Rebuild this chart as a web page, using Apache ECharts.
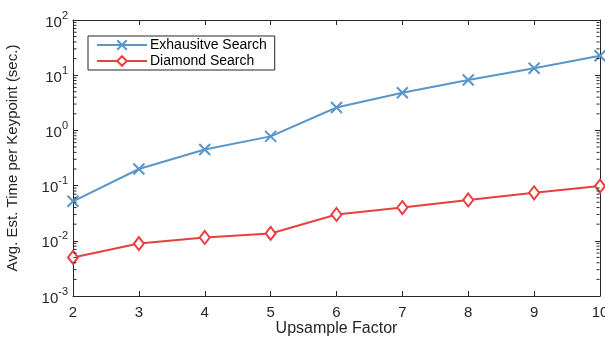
<!DOCTYPE html>
<html>
<head>
<meta charset="utf-8">
<script src="https://cdn.jsdelivr.net/npm/echarts@6/dist/echarts.min.js"></script>
<style>
  html, body { margin: 0; padding: 0; background: #fff; }
  #main { width: 605px; height: 339px; }
</style>
</head>
<body>
<div id="main"></div>
<script>
var factors = [2, 3, 4, 5, 6, 7, 8, 9, 10];
var exhaustive = [0.052, 0.20, 0.45, 0.78, 2.6, 4.8, 8.2, 13.4, 22.5];
var diamond = [0.0050, 0.0089, 0.0115, 0.0136, 0.030, 0.040, 0.055, 0.074, 0.098];
var seriesNames = ['Exhausitve Search', 'Diamond Search'];

// minor ticks 2..9 x 10^n, MATLAB style
var minorValues = [];
for (var e = -3; e < 2; e++) {
    for (var k = 2; k <= 9; k++) {
        minorValues.push(k * Math.pow(10, e));
    }
}

var chartDom = document.getElementById('main');
var myChart = echarts.init(chartDom, null, { renderer: 'canvas' });
var axisColor = '#262626';
var font = 'Liberation Sans, Arial, Helvetica, sans-serif';

function pair(xs, ys) {
    return xs.map(function (x, i) { return [x, ys[i]]; });
}

function minorSeries(x, offset) {
    return {
        type: 'scatter',
        silent: true,
        clip: false,
        z: 5,
        xAxisIndex: 0,
        yAxisIndex: 0,
        data: minorValues.map(function (v) { return [x, v]; }),
        symbol: 'rect',
        symbolSize: [3, 1],
        symbolOffset: [offset, 0],
        itemStyle: { color: axisColor, opacity: 1 },
        emphasis: { disabled: true }
    };
}

var option = {
    animation: false,
    textStyle: { fontFamily: font },
    grid: { left: 73, right: 5, top: 20, bottom: 43, outerBoundsMode: 'none', containLabel: false },
    legend: {
        data: seriesNames,
        orient: 'vertical',
        left: 88,
        top: 36,
        itemWidth: 50,
        itemHeight: 12,
        itemGap: 2,
        padding: [2, 8, 2, 8],
        backgroundColor: '#fff',
        borderColor: axisColor,
        borderWidth: 1,
        borderRadius: 0,
        textStyle: { fontSize: 14, color: '#000', fontFamily: font, padding: [0, 0, 0, -2] }
    },
    xAxis: [{
        type: 'value',
        min: 2,
        max: 10,
        interval: 1,
        name: 'Upsample Factor',
        nameLocation: 'middle',
        nameGap: 25,
        nameMoveOverlap: false,
        nameTextStyle: { fontSize: 16, color: axisColor },
        axisLine: { lineStyle: { color: axisColor, width: 1 } },
        axisTick: { inside: true, length: 5, lineStyle: { color: axisColor } },
        axisLabel: { fontSize: 15, color: axisColor, margin: 9 },
        splitLine: { show: false }
    }, {
        type: 'value',
        position: 'top',
        min: 2,
        max: 10,
        interval: 1,
        axisLine: { lineStyle: { color: axisColor, width: 1 } },
        axisTick: { inside: true, length: 5, lineStyle: { color: axisColor } },
        axisLabel: { show: false },
        splitLine: { show: false }
    }],
    yAxis: [{
        type: 'log',
        logBase: 10,
        min: 0.001,
        max: 100,
        name: 'Avg. Est. Time per Keypoint (sec.)',
        nameLocation: 'middle',
        nameGap: 53,
        nameMoveOverlap: false,
        nameTextStyle: { fontSize: 15, color: axisColor },
        axisLine: { lineStyle: { color: axisColor, width: 1 } },
        axisTick: { inside: true, length: 5, lineStyle: { color: axisColor } },
        axisLabel: {
            color: axisColor,
            margin: 5,
            formatter: function (v) {
                var n = Math.round(Math.log10(v));
                return '{b|10}{s|' + n + '}';
            },
            rich: {
                b: { fontSize: 15, color: axisColor, fontFamily: font, verticalAlign: 'bottom' },
                s: { fontSize: 11, color: axisColor, fontFamily: font, verticalAlign: 'top', padding: [0, 0, 9, 0] }
            }
        },
        splitLine: { show: false }
    }, {
        type: 'log',
        logBase: 10,
        position: 'right',
        min: 0.001,
        max: 100,
        axisLine: { lineStyle: { color: axisColor, width: 1 } },
        axisTick: { inside: true, length: 5, lineStyle: { color: axisColor } },
        axisLabel: { show: false },
        splitLine: { show: false }
    }],
    series: [
        minorSeries(2, 2),
        minorSeries(10, -2),
        {
            name: seriesNames[0],
            type: 'line',
            z: 3,
            data: pair(factors, exhaustive),
            symbol: 'path://M0,0L10,10M10,0L0,10',
            symbolSize: 11,
            showAllSymbol: true,
            lineStyle: { color: '#5a96c8', width: 2 },
            itemStyle: { color: '#5a96c8', borderColor: '#5a96c8', borderWidth: 2 }
        }, {
            name: seriesNames[1],
            type: 'line',
            z: 3,
            data: pair(factors, diamond),
            symbol: 'diamond',
            symbolSize: [10, 13],
            showAllSymbol: true,
            lineStyle: { color: '#e8403f', width: 2 },
            itemStyle: { color: '#fff', borderColor: '#e8403f', borderWidth: 2 }
        }
    ]
};
myChart.setOption(option);
</script>
</body>
</html>
